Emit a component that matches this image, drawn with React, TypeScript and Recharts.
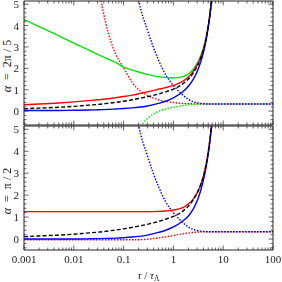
import React from "react";
import { LineChart, Line, XAxis, YAxis } from "recharts";

// tau / tau_Lambda sample points (log axis)
const tau = [0.001, 0.002, 0.005, 0.01, 0.02, 0.03, 0.05, 0.07, 0.1, 0.15, 0.2, 0.3, 0.5, 0.7, 1, 1.5, 2, 2.5, 3, 3.5, 4, 4.5, 5, 5.5, 6, 6.5, 7, 10, 20, 50, 100];

const N = null;

// shared dashed black curve
const blackDash = [0.11, 0.14, 0.18, 0.22, 0.28, 0.31, 0.37, 0.41, 0.46, 0.53, 0.59, 0.67, 0.8, 0.9, 1.03, 1.25, 1.5, 1.78, 2.1, 2.45, 2.85, 3.35, 3.95, 4.65, 5.5, 6.5, N, N, N, N, N];

// alpha = 2pi/5
const topRed = [0.3, 0.33, 0.38, 0.43, 0.49, 0.53, 0.58, 0.63, 0.68, 0.75, 0.81, 0.9, 1.02, 1.1, 1.2, 1.38, 1.6, 1.86, 2.16, 2.5, 2.88, 3.37, 3.96, 4.66, 5.5, 6.5, N, N, N, N, N];
const topGreen = [4.28, 3.95, 3.52, 3.18, 2.85, 2.65, 2.42, 2.27, 2.06, 1.92, 1.83, 1.72, 1.61, 1.57, 1.55, 1.6, 1.74, 1.95, 2.23, 2.56, 2.93, 3.4, 3.98, 4.67, 5.5, 6.5, N, N, N, N, N];
const topBlue = [0.03, 0.03, 0.03, 0.04, 0.05, 0.06, 0.08, 0.1, 0.12, 0.15, 0.18, 0.24, 0.36, 0.46, 0.62, 0.88, 1.16, 1.48, 1.85, 2.27, 2.74, 3.27, 3.9, 4.62, 5.48, 6.5, N, N, N, N, N];
const topRedDot = [N, N, N, N, N, 6.0, 3.6, 2.65, 2.02, 1.33, 1.0, 0.74, 0.53, 0.45, 0.4, 0.36, 0.345, 0.34, 0.335, 0.332, 0.33, 0.33, 0.33, 0.33, 0.33, 0.33, 0.33, 0.33, 0.33, 0.33, 0.33];
const topGreenDot = [N, N, N, N, N, N, N, N, N, -1.3, -0.85, -0.35, -0.02, 0.1, 0.18, 0.25, 0.29, 0.31, 0.32, 0.325, 0.33, 0.33, 0.33, 0.33, 0.33, 0.33, 0.33, 0.33, 0.33, 0.33, 0.33];
const blueDot = [N, N, N, N, N, N, N, N, N, 7.0, 5.2, 3.8, 2.4, 1.7, 1.2, 0.78, 0.55, 0.44, 0.39, 0.36, 0.345, 0.338, 0.333, 0.33, 0.33, 0.33, 0.33, 0.33, 0.33, 0.33, 0.33];

// alpha = pi/2
const botRed = [1.25, 1.25, 1.25, 1.25, 1.25, 1.25, 1.25, 1.25, 1.25, 1.25, 1.25, 1.25, 1.26, 1.28, 1.32, 1.42, 1.6, 1.82, 2.1, 2.45, 2.86, 3.36, 3.96, 4.66, 5.5, 6.5, N, N, N, N, N];
const botBlue = [0, 0, 0, 0, 0.01, 0.02, 0.03, 0.04, 0.06, 0.09, 0.12, 0.18, 0.3, 0.4, 0.55, 0.8, 1.05, 1.36, 1.74, 2.18, 2.68, 3.24, 3.88, 4.6, 5.46, 6.5, N, N, N, N, N];
const botRedDot = [-0.03, -0.03, -0.03, -0.03, -0.03, -0.03, -0.03, -0.03, -0.03, -0.03, -0.03, -0.01, 0.05, 0.1, 0.16, 0.23, 0.27, 0.3, 0.315, 0.322, 0.326, 0.328, 0.33, 0.33, 0.33, 0.33, 0.33, 0.33, 0.33, 0.33, 0.33];

const xMajor = [0.001, 0.01, 0.1, 1, 10, 100];
const xTicks = xMajor.flatMap((d, i) => (i < xMajor.length - 1 ? [1, 2, 3, 4, 5, 6, 7, 8, 9].map((k) => k * d) : [d]));

const RED = "#ff0000";
const GREEN = "#00e400";
const BLUE = "#0000ff";
const INK = "#222";
const SERIF = "'Liberation Serif', 'DejaVu Serif', serif";

const topRows = tau.map((t, i) => ({
  t,
  redDot: topRedDot[i],
  greenDot: topGreenDot[i],
  blueDot: blueDot[i],
  green: topGreen[i],
  red: topRed[i],
  black: blackDash[i],
  blue: topBlue[i],
}));

const botRows = tau.map((t, i) => ({
  t,
  redDot: botRedDot[i],
  blueDot: blueDot[i],
  red: botRed[i],
  black: blackDash[i],
  blue: botBlue[i],
}));

const topSeries = [
  { key: "redDot", color: RED, dash: "1.5 1.5" },
  { key: "greenDot", color: GREEN, dash: "1.5 1.5" },
  { key: "blueDot", color: BLUE, dash: "1.5 1.5" },
  { key: "green", color: GREEN },
  { key: "red", color: RED },
  { key: "blue", color: BLUE },
  { key: "black", color: "#000", dash: "4 2.2" },
];

const botSeries = [
  { key: "redDot", color: RED, dash: "1.5 1.5" },
  { key: "blueDot", color: BLUE, dash: "1.5 1.5" },
  { key: "red", color: RED },
  { key: "blue", color: BLUE },
  { key: "black", color: "#000", dash: "4 2.2" },
];

const isMajorX = (v: number) => Math.abs(Math.log10(v) - Math.round(Math.log10(v))) < 1e-6;
const isMajorY = (v: number) => Math.abs(v - Math.round(v)) < 1e-6;

function xTick(side: "top" | "bottom", labels: boolean) {
  return (p: any) => {
    const { x, y, payload } = p;
    const major = isMajorX(payload.value);
    const d = side === "bottom" ? -1 : 1;
    return (
      <g>
        <line x1={x} x2={x} y1={y} y2={y + d * (major ? 4.5 : 2.5)} stroke={INK} strokeWidth={0.7} />
        {labels && major && (
          <text x={x} y={y + 13} textAnchor="middle" fontFamily={SERIF} fontSize={11} fill={INK}>
            {String(payload.value)}
          </text>
        )}
      </g>
    );
  };
}

function yTick(side: "left" | "right") {
  return (p: any) => {
    const { x, y, payload } = p;
    const major = isMajorY(payload.value);
    const d = side === "left" ? 1 : -1;
    return (
      <g>
        <line x1={x} x2={x + d * (major ? 4.5 : 2.5)} y1={y} y2={y} stroke={INK} strokeWidth={0.7} />
        {side === "left" && major && (
          <text x={x - 5} y={y} dy="0.37em" textAnchor="end" fontFamily={SERIF} fontSize={11} fill={INK}>
            {String(payload.value)}
          </text>
        )}
      </g>
    );
  };
}

const yTitle = (frac: string) => (p: any) => {
  const { y, height } = p.viewBox;
  const cx = 11;
  const cy = y + height / 2 + 3;
  return (
    <text x={cx} y={cy} transform={`rotate(-90 ${cx} ${cy})`} textAnchor="middle" fontFamily={SERIF} fontSize={12} fill={INK}>
      <tspan fontStyle="italic">α</tspan>{"\u2002=\u2002"}{frac}
    </text>
  );
};

const xTitle = (p: any) => {
  const { x, y, width } = p.viewBox;
  return (
    <text x={x + width / 2} y={y + 28.5} textAnchor="middle" fontFamily={SERIF} fontSize={11} fill={INK}>
      <tspan fontStyle="italic">τ</tspan> / <tspan fontStyle="italic">τ</tspan>
      <tspan fontSize={7.5} dy={2}>Λ</tspan>
    </text>
  );
};

function Panel({ rows, series, domain, title, bottom }: any) {
  const yTicks = [] as number[];
  for (let v = Math.ceil(domain[0] * 5); v <= Math.floor(domain[1] * 5); v++) yTicks.push(v / 5);
  const axisLine = { stroke: INK, strokeWidth: 1 };
  return (
    <LineChart
      width={282}
      height={bottom ? 157 : 126}
      data={rows}
      margin={{ top: 0, right: 8, left: 0, bottom: 0 }}
    >
      <XAxis
        dataKey="t"
        type="number"
        scale="log"
        domain={[0.001, 100]}
        allowDataOverflow
        ticks={xTicks}
        interval={0}
        tickSize={0}
        tickMargin={0}
        tickLine={false}
        tick={xTick("bottom", bottom)}
        axisLine={axisLine}
        height={bottom ? 32 : 1}
        label={bottom ? xTitle : undefined}
      />
      <XAxis
        xAxisId="top"
        orientation="top"
        dataKey="t"
        type="number"
        scale="log"
        domain={[0.001, 100]}
        allowDataOverflow
        ticks={xTicks}
        interval={0}
        tickSize={0}
        tickMargin={0}
        tickLine={false}
        tick={xTick("top", false)}
        axisLine={axisLine}
        height={1}
      />
      <YAxis
        type="number"
        domain={domain}
        allowDataOverflow
        ticks={yTicks}
        interval={0}
        tickSize={0}
        tickMargin={0}
        tickLine={false}
        tick={yTick("left")}
        axisLine={axisLine}
        width={24}
        label={yTitle(title)}
      />
      <YAxis
        yAxisId="right"
        orientation="right"
        type="number"
        domain={domain}
        allowDataOverflow
        ticks={yTicks}
        interval={0}
        tickSize={0}
        tickMargin={0}
        tickLine={false}
        tick={yTick("right")}
        axisLine={axisLine}
        width={1}
      />
      {series.map((s: any) => (
        <Line
          key={s.key}
          dataKey={s.key}
          type="monotone"
          stroke={s.color}
          strokeWidth={1.4}
          strokeDasharray={s.dash}
          dot={false}
          activeDot={false}
          isAnimationActive={false}
        />
      ))}
    </LineChart>
  );
}

export default function App() {
  return (
    <div style={{ position: "fixed", left: 0, top: 0, width: 282, height: 282, background: "#fff" }}>
      <style>{"svg.recharts-surface{overflow:visible}"}</style>
      <div style={{ position: "absolute", left: 0, top: 0 }}>
        <Panel rows={topRows} series={topSeries} domain={[-0.65, 5.15]} title="2π / 5" bottom={false} />
      </div>
      <div style={{ position: "absolute", left: 0, top: 125 }}>
        <Panel rows={botRows} series={botSeries} domain={[-0.5, 5.15]} title="π / 2" bottom={true} />
      </div>
    </div>
  );
}
